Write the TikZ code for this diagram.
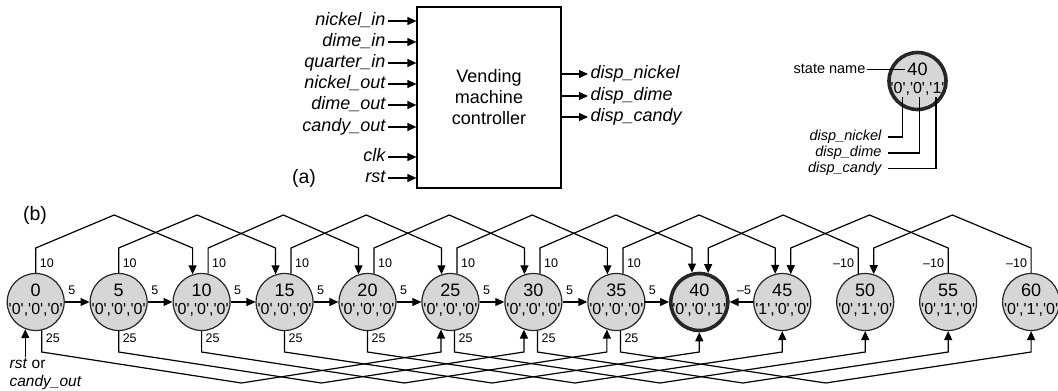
\documentclass[tikz,border=0pt]{standalone}
\usepackage{fontspec}
\setmainfont{Liberation Sans}
\usetikzlibrary{arrows.meta,calc}
\newcommand\sq{\textquotesingle}
\newcommand\fs[1]{\fontsize{#1}{#1}\selectfont}
\definecolor{stgray}{RGB}{214,214,214}
\begin{document}
\begin{tikzpicture}[x=1pt,y=-1pt,line width=1.2pt,
  arr/.style={-{Triangle[length=9pt,width=8pt]}},
  st/.style={circle,draw=black!85,line width=1.2pt,fill=stgray,minimum size=57pt,inner sep=0pt},
  stb/.style={st,line width=3.6pt},
  num/.style={font=\fs{18},inner sep=0pt,anchor=base},
  val/.style={font=\fs{16},inner sep=0pt,anchor=base},
  lbl/.style={font=\fs{12.5},inner sep=0.5pt},
  sig/.style={font=\fs{18}\itshape,inner sep=0pt,text height=13pt,text depth=4pt},
  lgt/.style={font=\fs{14.5}\itshape,inner sep=0pt,text height=10.5pt,text depth=3pt},
]
\useasboundingbox (0,0) rectangle (1058,391);

% ---------- (a) block ----------
\node[draw,line width=1.2pt,minimum width=144pt,minimum height=181pt,inner sep=0pt,
      align=center,font=\fontsize{18}{21}\selectfont] (vmc) at (489,97.5) {Vending\\machine\\controller};
\foreach \i/\y/\txt in {1/21/nickel\_in,2/42/dime\_in,3/63/quarter\_in,4/84/nickel\_out,
                        5/105/dime\_out,6/127/candy\_out,7/157/clk,8/178/rst} {
  \node[sig,anchor=east] (in\i) at (386,\y) {\txt};
  \draw[arr] ([xshift=2pt]in\i.east) -- (in\i.east -| vmc.west);
}
\foreach \i/\y/\txt in {1/74/disp\_nickel,2/96/disp\_dime,3/117/disp\_candy} {
  \node[sig,anchor=west] (out\i) at (590,\y) {\txt};
  \draw[arr] (out\i.west -| vmc.east) -- ([xshift=-2pt]out\i.west);
}
\node[font=\fs{19.5},inner sep=0pt] (lbla) at (304,178) {(a)};

% ---------- legend ----------
\node[stb] (lg) at (917.5,81) {};
\node[num,inner sep=2pt] (lgn) at ($(lg.center)+(0,-6)$) {40};
\node[val] (lgv) at ($(lg.center)+(0,12.5)$) {\sq0\sq,\sq0\sq,\sq1\sq};
\node[lgt,font=\fs{14.5},anchor=east] (sn) at (866,69.3) {state name};
\draw ([xshift=1pt]sn.east) -- (sn.east -| lgn.west);
\coordinate (lc1) at (902.7,97);
\coordinate (lc2) at (919.3,97);
\coordinate (lc3) at (936,97);
\node[lgt,anchor=east] (dn) at (882,137) {disp\_nickel};
\node[lgt,anchor=east] (dd) at (882,153) {disp\_dime};
\node[lgt,anchor=east] (dc) at (882,168.3) {disp\_candy};
\draw (lc1) |- ([xshift=6pt]dn.east);
\draw (lc2) |- ([xshift=6pt]dd.east);
\draw (lc3) |- ([xshift=6pt]dc.east);

% ---------- (b) state diagram ----------
\node[font=\fs{19.5},inner sep=0pt] (lblb) at (35,215) {(b)};
\foreach \k/\n/\a/\b/\c/\s in {0/0/0/0/0/st,1/5/0/0/0/st,2/10/0/0/0/st,3/15/0/0/0/st,
    4/20/0/0/0/st,5/25/0/0/0/st,6/30/0/0/0/st,7/35/0/0/0/st,8/40/0/0/1/stb,
    9/45/1/0/0/st,10/50/0/1/0/st,11/55/0/1/0/st,12/60/0/1/0/st} {
  \node[\s] (s\k) at ({35.7+82.95*\k},302) {};
  \node[num] (n\k) at ($(s\k.center)+(0,-6)$) {\n};
  \node[val] (v\k) at ($(s\k.center)+(0,12.5)$) {\sq\a\sq,\sq\b\sq,\sq\c\sq};
}

% +5 transitions
\foreach \k in {0,...,7} {
  \pgfmathtruncatemacro\t{\k+1}
  \draw[arr] (s\k) -- (s\t);
  \node[lbl] (l5-\k) at ($(s\k.east)+(7,-12)$) {5};
}
% -5 transition
\draw[arr] (s9) -- (s8);
\node[lbl] (lm5) at ($(s9.west)+(-9,-12)$) {\textendash5};

% +10 transitions (top)
\foreach \k/\ao/\ai in {0/90/108.4,1/90/108.4,2/77.85/108.4,3/77.85/108.4,
                        4/77.85/108.4,5/77.85/108.4,6/77.85/104.2,7/77.85/104.2} {
  \pgfmathtruncatemacro\t{\k+2}
  \draw[arr] let \p1=(s\k.\ao), \p2=(s\t.\ai) in
    (\p1) -- (\x1,248) -- ({(\x1+\x2)/2},215) -- (\x2,248) -- (\p2);
  \path let \p1=(s\k.\ao) in node[lbl,anchor=west] (l10-\k) at (\x1+3pt,263) {10};
}
% -10 transitions (top)
\foreach \k/\ao/\ai in {10/104.2/73.7,11/90/73.7,12/90/73.7} {
  \pgfmathtruncatemacro\t{\k-2}
  \draw[arr] let \p1=(s\k.\ao), \p2=(s\t.\ai) in
    (\p1) -- (\x1,248) -- ({(\x1+\x2)/2},215) -- (\x2,248) -- (\p2);
  \path let \p1=(s\k.\ao) in node[lbl,anchor=east] (lm10-\k) at (\x1-3pt,263) {\textendash10};
}
% +25 transitions (bottom)
\foreach \k/\ao/\ai in {0/282.15/251.6,1/270/251.6,2/270/251.6,3/270/270,
                        4/270/270,5/278.07/270,6/278.07/270,7/278.07/270} {
  \pgfmathtruncatemacro\t{\k+5}
  \draw[arr] let \p1=(s\k.\ao), \p2=(s\t.\ai) in
    (\p1) -- (\x1,352) -- ({(\x1+\x2)/2},383) -- (\x2,352) -- (\p2);
  \path let \p1=(s\k.\ao) in node[lbl,anchor=west] (l25-\k) at (\x1+3pt,338) {25};
}

% reset arrow
\node[font=\fs{15.5},inner sep=0pt,anchor=base west] (rst) at (9,368) {\textit{rst} or};
\node[font=\fs{15.5},inner sep=0pt,anchor=base west] (cout) at (9,386) {\textit{candy\_out}};
\draw[arr] (rst.north -| s0.249.5) -- (s0.249.5);
\end{tikzpicture}
\end{document}
